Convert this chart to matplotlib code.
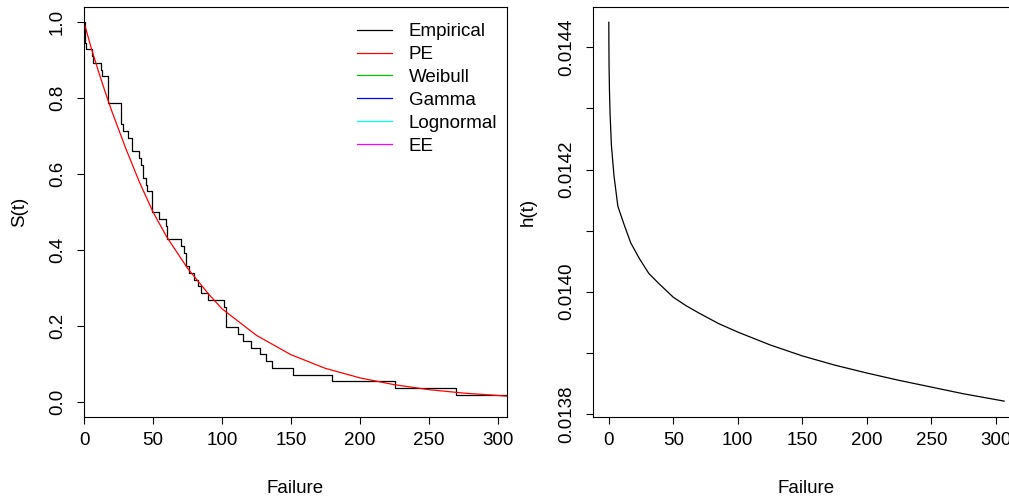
import matplotlib
matplotlib.use("Agg")
import matplotlib.pyplot as plt
from matplotlib.lines import Line2D

plt.rcParams['font.family'] = ['Liberation Sans', 'DejaVu Sans']

# Kaplan-Meier steps
km_time = [0, 0.5, 1.5, 5.6, 6.8, 12.1, 12.8, 17.1, 26.6, 28.5, 31.6, 34.5, 39.9, 41.1,
           43.0, 44.7, 45.5, 49.5, 54.6, 59.6, 60.4, 70.5, 72.7, 73.9, 76.3, 80.0, 82.4,
           84.5, 89.6, 101.6, 102.6, 111.8, 115.5, 121.0, 127.5, 131.9, 136.4, 151.6,
           179.7, 225.4, 269.6, 306.5]
km_surv = [1.0, 0.946, 0.929, 0.911, 0.893, 0.875, 0.857, 0.786, 0.732, 0.714, 0.696,
           0.661, 0.643, 0.625, 0.589, 0.571, 0.554, 0.500, 0.482, 0.464, 0.429, 0.411,
           0.393, 0.357, 0.339, 0.321, 0.304, 0.286, 0.268, 0.250, 0.196, 0.179, 0.161,
           0.143, 0.125, 0.107, 0.089, 0.071, 0.054, 0.036, 0.018, 0.018]

# fitted PE survival curve (red)
pe_time = [0, 5, 10, 15, 20, 30, 40, 50, 60, 75, 90, 100, 125, 150, 175, 200, 225, 250,
           275, 306.5]
pe_surv = [1.0, 0.935, 0.876, 0.82, 0.767, 0.67, 0.58, 0.50, 0.434, 0.352, 0.285, 0.245,
           0.175, 0.124, 0.088, 0.063, 0.045, 0.032, 0.023, 0.015]

# hazard curve (right panel)
hz_time = [0, 0.05, 0.2, 0.5, 1, 2, 4, 7, 12, 17, 23.5, 31, 39, 50, 60, 70, 85, 100, 125,
           150, 175, 200, 225, 250, 275, 306.5]
hz_vals = [0.014441, 0.01441, 0.01437, 0.01433, 0.01429, 0.01424, 0.01419, 0.01414,
           0.014109, 0.01408, 0.014055, 0.01403, 0.014013, 0.013991, 0.013977, 0.013965,
           0.013948, 0.013934, 0.013913, 0.013895, 0.01388, 0.013867, 0.013855, 0.013844,
           0.013833, 0.013821]

legend_labels = ['Empirical', 'PE', 'Weibull', 'Gamma', 'Lognormal', 'EE']
legend_colors = ['black', 'red', '#00CD00', 'blue', 'cyan', 'magenta']

W, H = 1009, 497
fig = plt.figure(figsize=(W / 100, H / 100), dpi=100)
ax1 = fig.add_axes([84 / W, 1 - 417 / H, (507 - 84) / W, 410 / H])
ax2 = fig.add_axes([593 / W, 1 - 417 / H, (1020 - 593) / W, 410 / H])

fs = 13.5
for ax in (ax1, ax2):
    for s in ax.spines.values():
        s.set_linewidth(0.8)
    ax.tick_params(direction='out', length=5, width=0.8, labelsize=fs)
    ax.tick_params(axis='y', pad=8)
    ax.tick_params(axis='x', pad=6)

# left: survival
ax1.step(km_time, km_surv, where='post', color='black', lw=0.9)
ax1.plot(pe_time, pe_surv, color='red', lw=0.9)
ax1.set_xlim(0, 306.5)
ax1.set_ylim(-0.04, 1.04)
ax1.set_xticks([0, 50, 100, 150, 200, 250, 300])
ax1.set_yticks([0.0, 0.2, 0.4, 0.6, 0.8, 1.0])
ax1.set_yticklabels(['0.0', '0.2', '0.4', '0.6', '0.8', '1.0'], rotation=90, va='center')
ax1.set_xlabel('Failure', fontsize=fs, labelpad=22)
ax1.set_ylabel('S(t)', fontsize=fs, labelpad=15)

handles = [Line2D([], [], color=c, lw=0.9) for c in legend_colors]
ax1.legend(handles, legend_labels, loc='upper left', bbox_to_anchor=(357 / W, 1 - 23 / H),
           bbox_transform=fig.transFigure, frameon=False, fontsize=fs, borderpad=0,
           borderaxespad=0, handlelength=1.87, handletextpad=0.9, labelspacing=0.31)

# right: hazard
ax2.plot(hz_time, hz_vals, color='black', lw=0.9)
ax2.set_xlim(-12.26, 318.8)
ax2.set_ylim(0.013795, 0.014466)
ax2.set_xticks([0, 50, 100, 150, 200, 250, 300])
ax2.set_yticks([0.0138, 0.0139, 0.0140, 0.0141, 0.0142, 0.0143, 0.0144])
ax2.set_yticklabels(['0.0138', '', '0.0140', '', '0.0142', '', '0.0144'], rotation=90, va='center')
ax2.set_xlabel('Failure', fontsize=fs, labelpad=22)
ax2.set_ylabel('h(t)', fontsize=fs, labelpad=15)

fig.savefig('out.png', dpi=100)
